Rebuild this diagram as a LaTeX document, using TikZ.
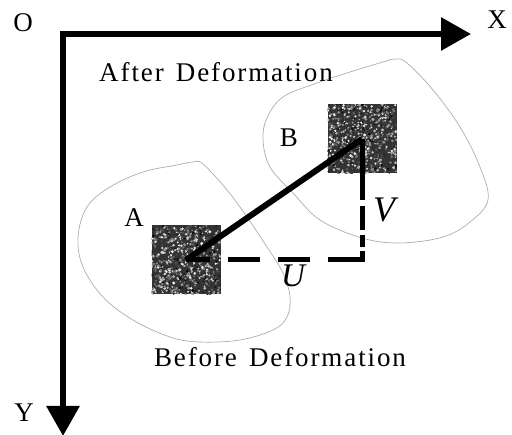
\documentclass[tikz,border=0pt]{standalone}
\usepackage{fontspec}
\setmainfont{Liberation Serif}
\usetikzlibrary{arrows.meta}
\tikzset{
  axisline/.style={line width=6pt, line join=miter,
    {Triangle[length=30pt,width=32pt]}-{Triangle[length=30pt,width=32pt]}},
  lbl/.style={font=\fontsize{27}{27}\selectfont, inner sep=0pt},
  ttl/.style={font=\fontsize{27}{27}\selectfont\addfontfeatures{LetterSpace=7}, inner sep=0pt},
  mathlbl/.style={font=\fontsize{33}{33}\selectfont\itshape, inner sep=0pt},
  blob/.style={draw=black!32, line width=0.7pt},
  sq/.style={minimum size=69pt, inner sep=0pt, outer sep=0pt, fill=black!80},
  disp/.style={line width=6pt},
  comp/.style={line width=5pt, line join=miter,
    dash pattern=on 61pt off 6pt on 24pt off 5pt on 12pt off 4pt on 43pt off 18pt on 32pt off 18pt on 32pt off 18pt on 40pt},
}
\newcommand\mySpeckle[1]{%
  \begin{scope}
    \clip (#1.north west) rectangle (#1.south east);
    \foreach \k in {1,...,700}{
      \pgfmathsetmacro\spx{rnd*69}
      \pgfmathsetmacro\spy{rnd*69}
      \pgfmathsetmacro\spg{100*rnd}
      \pgfmathsetmacro\spr{0.7+0.9*rnd}
      \fill[white!\spg!black] ([shift={(\spx,\spy)}]#1.north west) circle (\spr pt);
    }
  \end{scope}}
\begin{document}
\begin{tikzpicture}[x=1pt,y=-1pt]
\useasboundingbox (0,0) rectangle (512,435);
\pgfmathsetseed{7}
% deformation regions
\draw[blob] plot[smooth cycle, tension=0.6] coordinates {
  (193,162) (203,164) (227,190) (247,217) (267,247) (283,273) (290,297)
  (287,317) (273,330) (240,340) (200,342) (170,337) (133,320) (103,297)
  (83,267) (78,237) (87,207) (110,187) (143,172) (177,165)};
\draw[blob] plot[smooth cycle, tension=0.6] coordinates {
  (395,59) (407,63) (433,90) (460,127) (480,167) (488,200) (470,222)
  (443,237) (400,243) (362,238) (320,220) (293,193) (270,167) (263,140)
  (267,118) (283,97) (317,83) (350,72) (383,62)};
% axes
\coordinate (O) at (63,34);
\coordinate (xend) at (471,34);
\coordinate (yend) at (63,436);
\draw[axisline] (xend) -- (O) -- (yend);
\node[lbl] (lo) at (23,23) {O};
\node[lbl] (lx) at (497,20) {X};
\node[lbl] (ly) at (24,413) {Y};
% subsets
\node[sq] (sqA) at (186,260) {};
\node[sq] (sqB) at (362,139) {};
\mySpeckle{sqA}
\mySpeckle{sqB}
\node[lbl] (la) at (134,218) {A};
\node[lbl] (lb) at (289,138) {B};
% displacement
\coordinate (corner) at (362,260);
\draw[disp] (sqA.center) -- (sqB.center);
\draw[comp] (sqB.center) -- (corner) -- (sqA.center);
\node[mathlbl] (lu) at (293,276) {U};
\node[mathlbl, font=\fontsize{36}{36}\selectfont\itshape] (lv) at (384,210) {V};
% titles
\node[ttl] (after) at (216,72) {After\hspace{0.45em}Deformation};
\node[ttl] (before) at (280,357) {Before\hspace{0.45em}Deformation};
\end{tikzpicture}
\end{document}
